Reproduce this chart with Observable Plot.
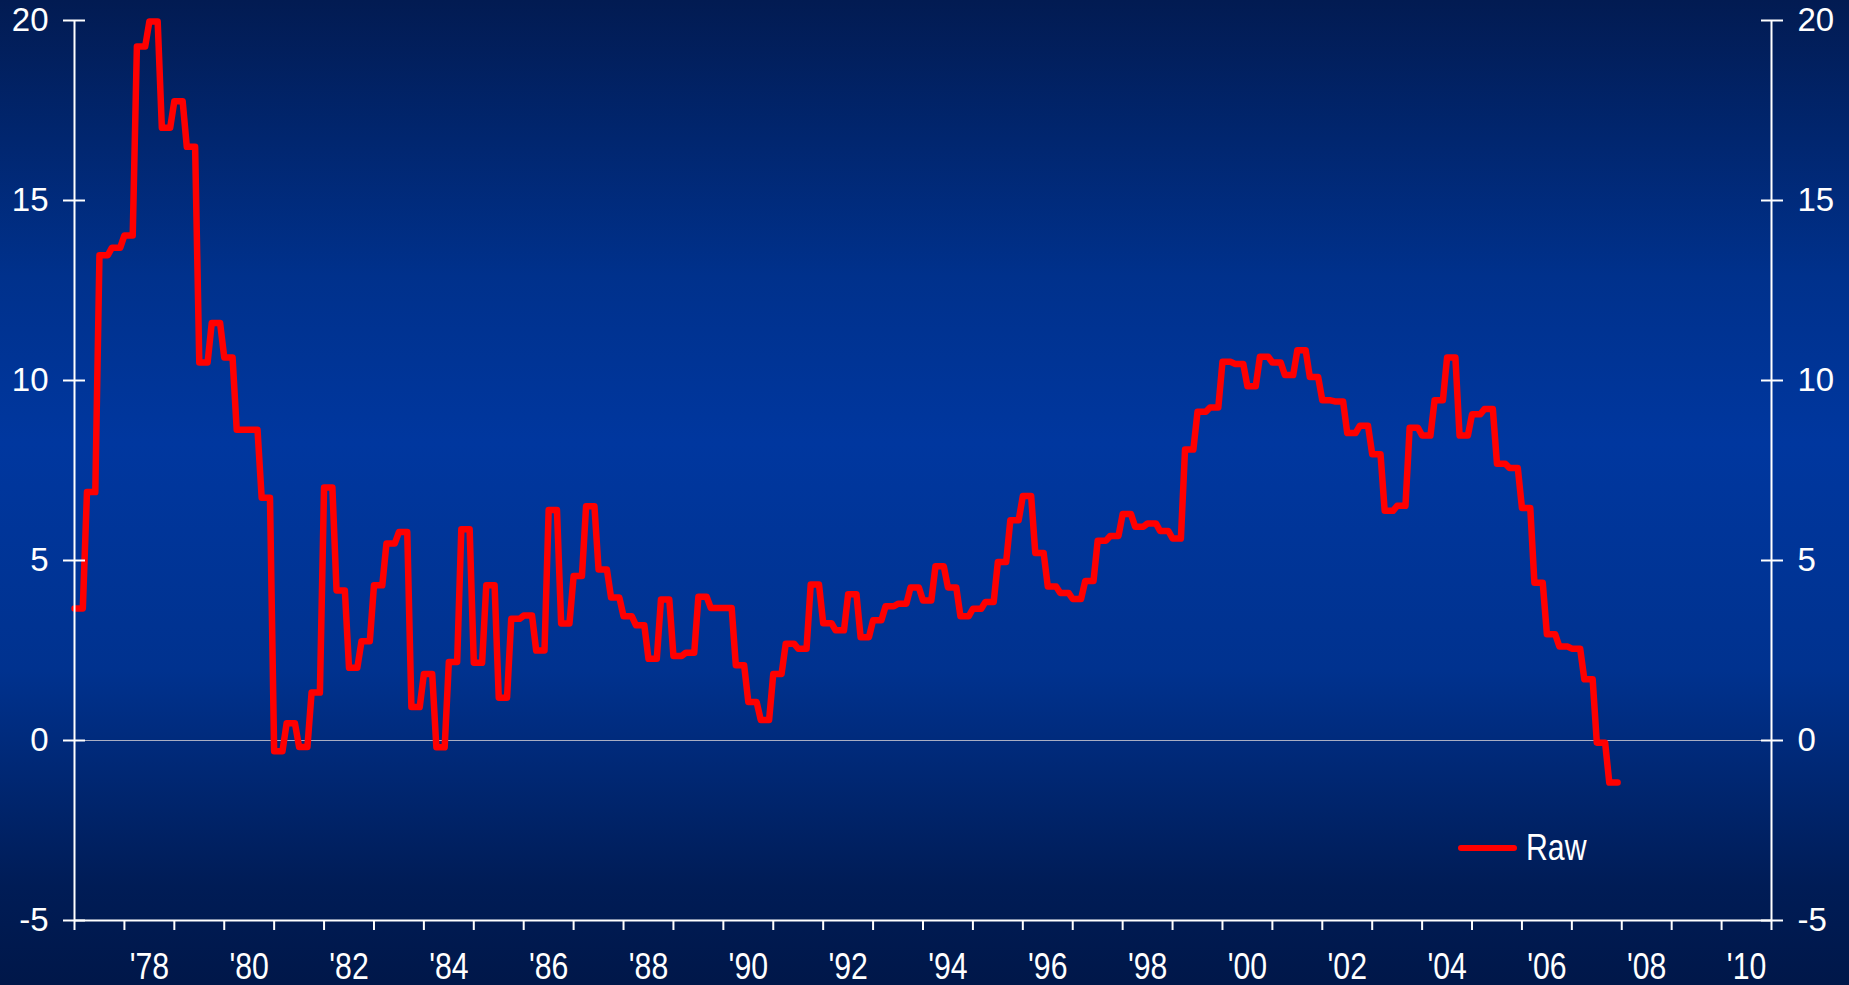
<!DOCTYPE html>
<html>
<head>
<meta charset="utf-8">
<script src="https://cdn.jsdelivr.net/npm/d3@7"></script>
<script src="https://cdn.jsdelivr.net/npm/@observablehq/plot@0.6"></script>
<style>
  html, body { margin: 0; padding: 0; }
  body {
    width: 1849px; height: 985px; overflow: hidden;
    background: linear-gradient(to bottom, #021b52 0%, #00318c 28%, #00379f 45%, #00328f 68%, #001c56 90%, #001749 100%);
  }
  #chart { position: relative; width: 1849px; height: 985px; }
  #legend {
    position: absolute; left: 1458px; top: 830px; height: 36px;
    display: flex; align-items: center; color: #fff;
    font-family: "Liberation Sans", Arial, sans-serif;
    font-size: 36px; line-height: 36px;
  }
  #legend .sw { width: 59px; height: 6px; background: #ff0000; border-radius: 3px; margin-right: 9px; }
  #legend .lbl { display: inline-block; transform: scaleX(0.84); transform-origin: left center; }
</style>
</head>
<body>
<div id="chart">
  <div id="legend"><span class="sw"></span><span class="lbl">Raw</span></div>
</div>
<script>
// Quarterly values, 1977 Q1 .. 2007 Q4
const startYear = 1977;
const rawValues = [
  3.67, 6.90, 13.48, 13.69,   // 1977
  14.03, 19.28, 19.97, 17.02, // 1978
  17.76, 16.49, 10.50, 11.60, // 1979
  10.64, 8.63, 8.63, 6.74,    // 1980
  -0.30, 0.48, -0.18, 1.33,   // 1981
  7.03, 4.17, 2.02, 2.76,     // 1982
  4.31, 5.47, 5.79, 0.93,     // 1983
  1.85, -0.19, 2.18, 5.87,    // 1984
  2.16, 4.31, 1.19, 3.38,     // 1985
  3.47, 2.50, 6.40, 3.25,     // 1986
  4.57, 6.51, 4.75, 3.97,     // 1987
  3.45, 3.20, 2.27, 3.92,     // 1988
  2.35, 2.44, 3.99, 3.68,     // 1989
  3.68, 2.09, 1.07, 0.57,     // 1990
  1.85, 2.69, 2.55, 4.33,     // 1991
  3.26, 3.06, 4.06, 2.87,     // 1992
  3.34, 3.73, 3.80, 4.25,     // 1993
  3.89, 4.84, 4.25, 3.45,     // 1994
  3.66, 3.85, 4.96, 6.12,     // 1995
  6.79, 5.21, 4.28, 4.10,     // 1996
  3.93, 4.43, 5.55, 5.68,     // 1997
  6.29, 5.94, 6.03, 5.82,     // 1998
  5.61, 8.08, 9.13, 9.25,     // 1999
  10.52, 10.46, 9.84, 10.66,  // 2000
  10.50, 10.15, 10.84, 10.10, // 2001
  9.45, 9.42, 8.54, 8.74,     // 2002
  7.95, 6.38, 6.52, 8.69,     // 2003
  8.47, 9.45, 10.64, 8.47,    // 2004
  9.06, 9.21, 7.69, 7.57,     // 2005
  6.46, 4.38, 2.95, 2.61,     // 2006
  2.55, 1.70, -0.06, -1.17    // 2007
];
const yTicks = [-5, 0, 5, 10, 15, 20];
const yearTicks = d3.range(1977, 2012);
const labelYears = [1978, 1980, 1982, 1984, 1986, 1988, 1990, 1992, 1994, 1996, 1998, 2000, 2002, 2004, 2006, 2008, 2010];
const xLabels = ["'78", "'80", "'82", "'84", "'86", "'88", "'90", "'92", "'94", "'96", "'98", "'00", "'02", "'04", "'06", "'08", "'10"];

// Each quarterly value is held across the quarter's three monthly positions (step look of the source)
const points = rawValues.flatMap((v, i) => {
  const yr = startYear + Math.floor(i / 4), q = i % 4;
  return [0, 1, 2].map(k => ({t: yr + (3 * q + k) / 12, v}));
});

const chart = Plot.plot({
  width: 1849, height: 985,
  marginLeft: 74, marginRight: 78, marginTop: 20, marginBottom: 65,
  style: {background: "transparent", color: "white", fontFamily: "'Liberation Sans', Arial, sans-serif", fontSize: "33px", overflow: "visible"},
  x: {domain: [1977, 2011], label: null},
  y: {domain: [-5, 20], label: null},
  marks: [
    Plot.ruleY([0], {stroke: "#a9aec4", strokeWidth: 1.2}),
    Plot.line(points, {x: "t", y: "v", stroke: "#ff0000", strokeWidth: 6.5, strokeLinejoin: "round", strokeLinecap: "round"}),
    Plot.ruleY([-5], {stroke: "white", strokeWidth: 2}),
    Plot.ruleX([1977, 2011], {stroke: "white", strokeWidth: 2}),
    Plot.axisX(yearTicks, {tickSize: 10, tickFormat: () => "", strokeWidth: 2}),
    Plot.axisX(labelYears.map(y => y + 0.5), {tickSize: 0, tickPadding: 33, fontSize: 36,
      tickFormat: d => xLabels[labelYears.indexOf(d - 0.5)]}),
    Plot.axisY(yTicks, {anchor: "left", tickSize: 11, tickPadding: 15, fontSize: 33, strokeWidth: 2, tickFormat: d => String(d)}),
    Plot.axisY(yTicks, {anchor: "left", tickSize: 11, dx: 11, tickFormat: () => "", strokeWidth: 2}),
    Plot.axisY(yTicks, {anchor: "right", tickSize: 11, tickPadding: 15, fontSize: 33, strokeWidth: 2, tickFormat: d => String(d)}),
    Plot.axisY(yTicks, {anchor: "right", tickSize: 11, dx: -11, tickFormat: () => "", strokeWidth: 2})
  ]
});
document.getElementById("chart").prepend(chart);

// Condense the x tick labels horizontally, like the narrow face of the source
chart.querySelectorAll('g[aria-label="x-axis tick label"] text').forEach(t => {
  if (!t.textContent) return;
  const len = t.getComputedTextLength();
  t.setAttribute("textLength", (len * 0.84).toFixed(1));
  t.setAttribute("lengthAdjust", "spacingAndGlyphs");
});
</script>
</body>
</html>
